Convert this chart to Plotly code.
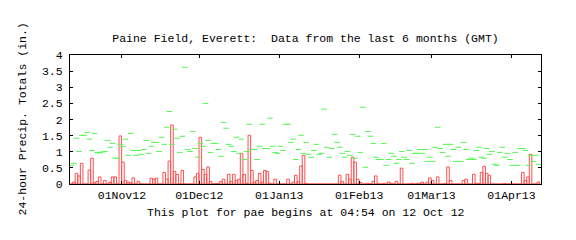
import pandas as pd
import plotly.graph_objects as go

start_date = "2012-10-12"

precip = [
    0, 0.06, 0.33, 0.25, 0.64, 0, 0, 0.43, 0.80, 0.04,
    0.08, 0.22, 0, 0.11, 0, 0.05, 0.22, 0.22, 0, 1.49,
    0.68, 0.11, 0.06, 0.04, 0.19, 0, 0.08, 0, 0, 0,
    0, 0.18, 0.15, 0.18, 0, 0, 0.36, 0.15, 0.71, 1.83,
    0.39, 0.30, 0, 0.42, 0, 0, 0, 0, 0.22, 0.33,
    1.45, 0.45, 0.30, 0.53, 0.08, 0, 0.02, 0.02, 0.08, 0.15,
    0, 0.30, 0.08, 0.30, 0.11, 0.15, 0.95, 0.30, 0.02, 1.51,
    0.42, 0.06, 0.11, 0.33, 0.06, 0.42, 0.39, 0.02, 0, 0.15,
    0, 0, 0, 0, 0.15, 0, 0.06, 0.27, 0.08, 0.56,
    0.89, 0.02, 0, 0, 0, 0, 0, 0, 0, 0,
    0, 0, 0, 0, 0.27, 0.08, 0, 0.30, 0.15, 0.83,
    0.68, 0.15, 0.05, 0, 0, 0.02, 0, 0.08, 0.25, 0.02,
    0, 0.02, 0, 0.06, 0.02, 0, 0.08, 0, 0.49, 0,
    0, 0, 0.02, 0, 0.02, 0.02, 0.06, 0, 0.06, 0.19,
    0.11, 0, 0.22, 0, 0, 0.02, 0.53, 0.11, 0, 0,
    0, 0, 0.11, 0.15, 0, 0, 0.30, 0.02, 0.02, 0.36,
    0.55, 0.33, 0.27, 0, 0, 0, 0, 0, 0.02, 0,
    0, 0, 0, 0, 0, 0.36, 0.11, 0.22, 0.92, 0,
    0, 0.06,
]

green_marks = [
    0.58, 0.64, 1.42, 1.01, 1.51, 1.51, 1.60, 1.39, 1.04, 1.57,
    0.98, 0.96, 0.99, 1.01, 1.35, 1.14, 1.26, 0.80, 0.80, 1.23,
    1.16, 1.39, 0.89, 1.57, 1.04, 0.89, 1.04, 0.92, 1.07, 1.35,
    0.95, 1.17, 1.29, 1.29, 1.01, 1.45, 1.23, 1.76, 2.25, 1.23,
    1.70, 1.42, 0.98, 1.48, 3.62, 1.07, 1.01, 1.63, 1.10, 0.83,
    1.26, 1.17, 2.50, 1.35, 0.98, 1.26, 1.26, 1.07, 0.86, 1.91,
    1.73, 1.23, 1.17, 1.01, 1.45, 0.95, 1.39, 0.76, 1.01, 1.85,
    1.07, 1.07, 0.76, 1.17, 1.85, 1.10, 1.10, 2.04, 1.17, 0.98,
    0.95, 1.17, 1.04, 1.85, 1.85, 1.29, 1.39, 0.76, 1.07, 1.51,
    0.95, 1.29, 0.92, 0.83, 1.04, 1.23, 0.92, 0.95, 2.32, 1.14,
    0.83, 1.10, 1.54, 1.29, 1.14, 0.95, 0.83, 1.01, 0.89, 1.54,
    0.80, 1.48, 0.98, 2.38, 0.52, 1.63, 1.48, 1.26, 0.83, 0.76,
    0.76, 1.26, 0.58, 0.76, 0.95, 0.86, 0.64, 0.76, 1.01, 0.83,
    0.76, 1.04, 0.64, 0.95, 0.95, 1.07, 0.95, 1.07, 0.70, 0.83,
    0.70, 1.14, 1.76, 1.10, 0.98, 1.23, 0.86, 1.23, 1.07, 0.70,
    1.14, 0.70, 1.29, 1.07, 0.76, 0.80, 0.76, 1.04, 1.14, 0.83,
    0.80, 1.10, 0.92, 1.01, 0.61, 0.58, 0.98, 1.14, 0.83, 0.95,
    0.76, 0.58, 0.98, 0.58, 1.10, 1.10, 1.04, 0.58, 0.89, 0.70,
    0.89, 0.61,
]

tick_dates = ["2012-11-01", "2012-12-01", "2013-01-01", "2013-02-01", "2013-03-01", "2013-04-01"]
tick_labels = ["01Nov12", "01Dec12", "01Jan13", "01Feb13", "01Mar13", "01Apr13"]

title_text = "Paine Field, Everett:  Data from the last 6 months (GMT)"
xlabel_text = "This plot for pae begins at 04:54 on 12 Oct 12"
ylabel_text = "24-hour Precip. Totals (in.)"

days = pd.date_range(start_date, periods=len(precip), freq="D")
xpos = days + pd.Timedelta(hours=9.6)

FONT = "Liberation Mono"
FS = 11.5
RED = "#ff5050"
GREEN = "#55f555"

fig = go.Figure()
fig.add_trace(go.Bar(
    x=xpos, y=precip, width=86400000,
    marker=dict(color="rgba(0,0,0,0)", line=dict(color=RED, width=1)),
    hoverinfo="skip", showlegend=False,
))
fig.add_trace(go.Scatter(
    x=xpos, y=green_marks, mode="markers",
    marker=dict(symbol="line-ew", size=4, color=GREEN, line=dict(color=GREEN, width=1)),
    hoverinfo="skip", showlegend=False,
))

fig.update_layout(
    width=576, height=240,
    margin=dict(l=70, r=35, t=55, b=56),
    paper_bgcolor="white", plot_bgcolor="white",
    font=dict(family=FONT, size=FS, color="black"),
    title=dict(text=title_text, x=0.5, xref="paper", y=1 - 38 / 240, yanchor="middle",
               font=dict(family=FONT, size=FS, color="black")),
    xaxis=dict(
        type="date", range=["2012-10-11 21:12", "2013-04-12 10:36"],
        tickvals=tick_dates, ticktext=tick_labels,
        ticks="inside", ticklen=3, tickcolor="black", tickwidth=1,
        showline=True, linecolor="black", linewidth=1, mirror="ticks",
        showgrid=False, zeroline=False,
        tickfont=dict(family=FONT, size=FS, color="black"),
    ),
    yaxis=dict(
        range=[0, 4], dtick=0.5, tick0=0,
        ticks="inside", ticklen=3, tickcolor="black", tickwidth=1,
        showline=True, linecolor="black", linewidth=1, mirror="ticks",
        showgrid=False, zeroline=False,
        tickfont=dict(family=FONT, size=FS, color="black"),
        ticklabelstandoff=4,
    ),
    annotations=[
        dict(text=xlabel_text, xref="paper", yref="paper", x=0.5, y=0,
             xanchor="center", yanchor="middle", yshift=-28, showarrow=False,
             font=dict(family=FONT, size=FS, color="black")),
        dict(text=ylabel_text, xref="paper", yref="paper", x=0, y=0.5,
             xanchor="center", yanchor="middle", xshift=-48, textangle=-90, showarrow=False,
             font=dict(family=FONT, size=FS, color="black")),
    ],
)

fig.write_html("out.html")
